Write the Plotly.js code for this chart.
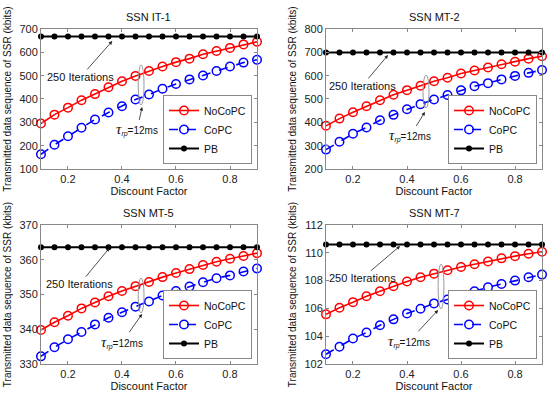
<!DOCTYPE html>
<html>
<head>
<meta charset="utf-8">
<script src="https://cdn.plot.ly/plotly-3.0.1.min.js"></script>
<style>html,body{margin:0;padding:0;background:#fff}#chart{width:550px;height:393px}</style>
</head>
<body>
<div id="chart"></div>
<script>
// ---- data ----
const discountFactor = [0.1,0.15,0.2,0.25,0.3,0.35,0.4,0.45,0.5,0.55,0.6,0.65,0.7,0.75,0.8,0.85,0.9];
const panelTitles = ["SSN IT-1","SSN MT-2","SSN MT-5","SSN MT-7"];
const seriesNames = ["NoCoPC","CoPC","PB"];

const it1NoCoPC = [295,333,363,395,421,450,476,499,520,539,558,573,592,606,619,634,645];
const it1CoPC   = [163,204,240,277,312,342,369,398,419,444,464,484,501,520,539,556,568];
const it1PB     = [668,668,668,668,668,668,668,668,668,668,668,668,668,668,668,668,668];

const mt2NoCoPC = [385,416,443,469,495,518,538,557,576,591,609,622,635,649,660,673,683];
const mt2CoPC   = [283,317,351,378,409,432,456,478,498,517,537,555,568,584,599,612,624];
const mt2PB     = [699,699,699,699,699,699,699,699,699,699,699,699,699,699,699,699,699];

const mt5NoCoPC = [339.8,342.0,343.9,346.0,347.7,349.5,351.0,352.4,353.6,355.0,356.2,357.3,358.5,359.4,360.3,361.1,361.9];
const mt5CoPC   = [332.2,334.8,337.1,339.2,341.4,343.3,344.9,346.5,348.0,349.7,351.0,352.3,353.5,354.7,355.5,356.6,357.5];
const mt5PB     = [363.6,363.6,363.6,363.6,363.6,363.6,363.6,363.6,363.6,363.6,363.6,363.6,363.6,363.6,363.6,363.6,363.6];

const mt7NoCoPC = [105.57,106.05,106.45,106.88,107.24,107.6,107.93,108.24,108.5,108.74,108.98,109.17,109.38,109.6,109.76,109.93,110.08];
const mt7CoPC   = [102.7,103.24,103.83,104.26,104.79,105.21,105.64,105.98,106.36,106.64,106.93,107.24,107.52,107.76,108.0,108.24,108.43];
const mt7PB     = [110.6,110.6,110.6,110.6,110.6,110.6,110.6,110.6,110.6,110.6,110.6,110.6,110.6,110.6,110.6,110.6,110.6];

const xTickVals = [0.2,0.4,0.6,0.8];
const yRanges = [[100,700],[200,800],[330,370],[102,112]];
const yDtick  = [100,100,10,2];

// ---- build ----
const panelData = [
  [it1NoCoPC,it1CoPC,it1PB],
  [mt2NoCoPC,mt2CoPC,mt2PB],
  [mt5NoCoPC,mt5CoPC,mt5PB],
  [mt7NoCoPC,mt7CoPC,mt7PB]
];
const FONT = 'Arial, "Liberation Sans", sans-serif';
const styles = [
  {color:'#ff0000', dash:'solid', symbol:'circle-open', size:8.5, width:1.6},
  {color:'#0000ff', dash:'dash',  symbol:'circle-open', size:8.5, width:1.6},
  {color:'#000000', dash:'solid', symbol:'circle', size:4.5, width:2}
];
const traces = [];
panelData.forEach((ser, p) => {
  const ax = p === 0 ? '' : String(p+1);
  ser.forEach((vals, s) => {
    const st = styles[s];
    traces.push({
      x: discountFactor, y: vals, type:'scatter', mode:'lines+markers',
      name: seriesNames[s], xaxis:'x'+ax, yaxis:'y'+ax,
      legend: p === 0 ? 'legend' : 'legend'+(p+1),
      cliponaxis:false,
      line:{color:st.color, dash:st.dash, width:st.width},
      marker:{symbol:st.symbol, size:st.size, color:st.color, line:{color:st.color, width:1.5}}
    });
  });
});

const xDomains = [[0.0745,0.4673],[0.5927,0.9855],[0.0745,0.4673],[0.5927,0.9855]];
const yDomains = [[0.5700,0.9262],[0.5700,0.9262],[0.0738,0.4275],[0.0738,0.4275]];
const legendPos = [[0.4582,0.5827],[0.9764,0.5827],[0.4582,0.0865],[0.9764,0.0865]];

// annotation placement (domain fractions per panel)
const iterText = [[0.183,0.657],[0.167,0.593],[0.179,0.576],[0.167,0.619]];
const iterTip  = [[0.330,0.914],[0.287,0.814],[0.317,0.835],[0.343,0.849]];
const ellX = [[0.450,0.477],[0.449,0.477],[0.450,0.477],[0.519,0.546]];
const ellY = [[0.457,0.743],[0.436,0.671],[0.367,0.619],[0.396,0.719]];
const tauText = [[0.445,0.279],[0.389,0.236],[0.376,0.158],[0.384,0.165]];
const tauTip  = [[0.468,0.443],[0.458,0.407],[0.468,0.360],[0.519,0.388]];
const PW = 216, PH = 140;

const layout = {
  width:550, height:393, margin:{l:0,r:0,t:0,b:0},
  paper_bgcolor:'#fff', plot_bgcolor:'#fff',
  font:{family:FONT, size:11, color:'#111'},
  annotations:[], shapes:[]
};
for (let p=0;p<4;p++){
  const ax = p === 0 ? '' : String(p+1);
  layout['xaxis'+ax] = {
    domain:xDomains[p], anchor:'y'+ax, range:[0.1,0.9],
    tickvals:xTickVals, ticktext:xTickVals.map(v=>v.toFixed(1)),
    ticks:'inside', ticklen:3, tickcolor:'#888', showline:true, linecolor:'#888', linewidth:1,
    mirror:'ticks', showgrid:false, zeroline:false,
    tickfont:{family:FONT,size:11,color:'#222'},
    title:{text:'Discount Factor', font:{family:FONT,size:11,color:'#111'}, standoff:2}
  };
  layout['yaxis'+ax] = {
    domain:yDomains[p], anchor:'x'+ax, range:yRanges[p], dtick:yDtick[p], tick0:yRanges[p][0],
    ticks:'inside', ticklen:3, tickcolor:'#888', showline:true, linecolor:'#888', linewidth:1,
    mirror:'ticks', showgrid:false, zeroline:false,
    tickfont:{family:FONT,size:11,color:'#222'},
    title:{text:'Transmitted data sequence of SSR (kbits)', font:{family:FONT,size:10,color:'#111'}, standoff:5}
  };
  layout[p===0?'legend':'legend'+(p+1)] = {
    x:legendPos[p][0], y:legendPos[p][1], xanchor:'right', yanchor:'bottom',
    xref:'paper', yref:'paper',
    bgcolor:'#fff', bordercolor:'#888', borderwidth:1,
    font:{family:FONT,size:10.5,color:'#111'}, tracegroupgap:0, itemwidth:30
  };
  const xr = 'x'+ax+' domain', yr = 'y'+ax+' domain';
  layout.annotations.push({
    xref:xr, yref:yr, x:0.5, y:1, yanchor:'bottom', yshift:4, showarrow:false,
    text:panelTitles[p], font:{family:FONT,size:11,color:'#111'}
  });
  layout.annotations.push({
    xref:xr, yref:yr, x:iterTip[p][0], y:iterTip[p][1],
    ax:(iterText[p][0]-iterTip[p][0])*PW, ay:-(iterText[p][1]-iterTip[p][1])*PH,
    text:'250 Iterations', showarrow:true, arrowhead:2, arrowsize:0.9, arrowwidth:0.8, arrowcolor:'#222',
    font:{family:FONT,size:11,color:'#111'}
  });
  layout.annotations.push({
    xref:xr, yref:yr, x:tauTip[p][0], y:tauTip[p][1],
    ax:(tauText[p][0]-tauTip[p][0])*PW, ay:-(tauText[p][1]-tauTip[p][1])*PH,
    text:'<span style="font-family:\'Liberation Serif\';font-size:15px"><i>τ</i></span><sub><i>rp</i></sub>=12ms',
    showarrow:true, arrowhead:2, arrowsize:0.9, arrowwidth:0.8, arrowcolor:'#222',
    font:{family:FONT,size:10,color:'#111'}
  });
  layout.shapes.push({
    type:'circle', xref:xr, yref:yr, x0:ellX[p][0], x1:ellX[p][1], y0:ellY[p][0], y1:ellY[p][1],
    line:{color:'#999', width:1}
  });
}
Plotly.newPlot('chart', traces, layout, {displayModeBar:false, staticPlot:true});
</script>
</body>
</html>
